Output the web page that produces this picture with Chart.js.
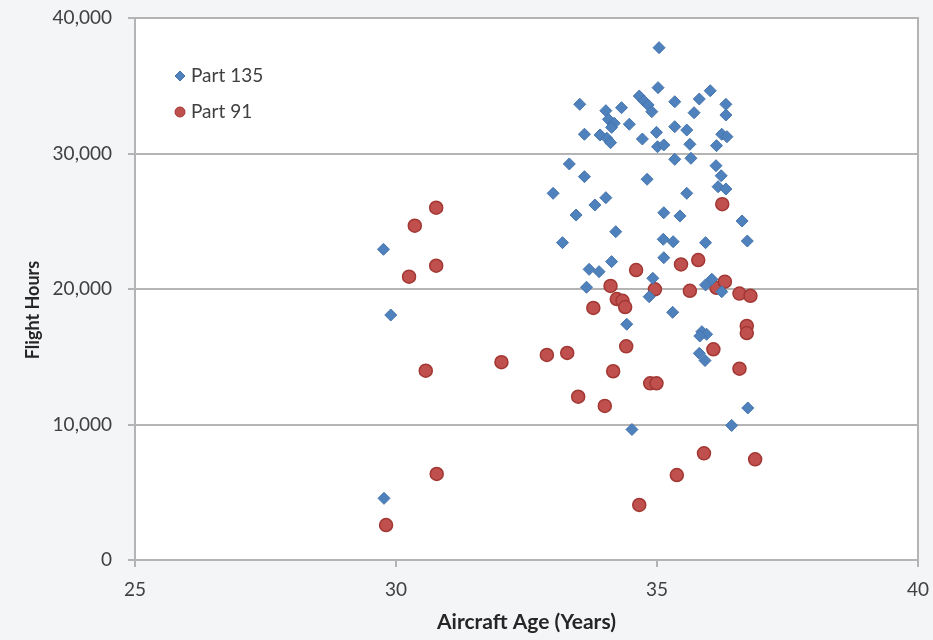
<!DOCTYPE html>
<html>
<head>
<meta charset="utf-8">
<script src="https://cdn.jsdelivr.net/npm/chart.js@4"></script>
<style>
  html, body { margin: 0; padding: 0; background: #f4f5f7; }
  canvas { display: block; }
</style>
</head>
<body>
<canvas id="chart" width="933" height="640"></canvas>
<script>
// Aircraft age (years) vs. accumulated flight hours
const seriesNames = ['Part 135', 'Part 91'];
const xAxisTitle = 'Aircraft Age (Years)';
const yAxisTitle = 'Flight Hours';

const part135Age = [
  29.76, 29.90, 29.77, 35.04, 33.52, 35.02, 34.66, 34.75, 34.83, 34.90,
  35.34, 35.81, 36.02, 36.32, 36.32, 35.71, 34.32, 34.02, 34.07, 34.18,
  34.13, 34.47, 33.61, 33.91, 34.04, 34.11, 34.72, 34.99, 35.34, 35.57,
  35.01, 35.13, 35.63, 36.14, 36.24, 36.34, 33.32, 33.61, 34.81, 35.34,
  35.65, 36.13, 36.23, 36.17, 36.32, 33.01, 34.02, 33.81, 35.57, 33.45,
  35.13, 35.44, 36.63, 34.21, 33.19, 35.12, 35.31, 35.93, 36.73, 34.13,
  35.13, 33.70, 33.89, 34.92, 33.65, 34.85, 35.93, 36.05, 36.24, 35.30,
  34.42, 35.86, 35.95, 35.82, 35.81, 35.92, 36.74, 36.43, 34.52
];
const part135Hours = [
  22930, 18080, 4550, 37810, 33630, 34860, 34240, 33870, 33580, 33090,
  33820, 34020, 34630, 33630, 32840, 33010, 33380, 33160, 32520, 32230,
  31930, 32160, 31420, 31370, 31120, 30800, 31070, 31560, 31980, 31730,
  30500, 30630, 30680, 30580, 31420, 31240, 29230, 28290, 28100, 29570,
  29650, 29100, 28360, 27550, 27380, 27060, 26740, 26200, 27060, 25460,
  25630, 25390, 25020, 24230, 23420, 23670, 23490, 23420, 23540, 22020,
  22310, 21450, 21280, 20790, 20130, 19430, 20300, 20720, 19800, 18280,
  17400, 16850, 16660, 16530, 15250, 14720, 11220, 9930, 9630
];

const part91Age = [
  30.36, 30.25, 30.77, 30.77, 30.57, 30.78, 29.81, 32.02, 32.89, 33.28,
  36.25, 35.79, 35.46, 34.60, 34.11, 34.96, 35.63, 36.14, 36.30, 36.58,
  36.79, 34.23, 34.34, 34.39, 33.78, 36.72, 36.72, 34.41, 36.08, 34.16,
  36.58, 34.87, 34.99, 33.49, 34.00, 35.90, 36.88, 35.38, 34.66
];
const part91Hours = [
  24670, 20910, 21720, 26000, 13970, 6350, 2580, 14600, 15130, 15280,
  26260, 22140, 21810, 21400, 20230, 19980, 19870, 20090, 20540, 19660,
  19500, 19260, 19130, 18670, 18600, 17270, 16750, 15770, 15550, 13930,
  14120, 13040, 13040, 12050, 11370, 7870, 7430, 6270, 4060
];

const xTickValues = [25, 30, 35, 40];
const yTickValues = [0, 10000, 20000, 30000, 40000];

const toPoints = (xs, ys) => xs.map((x, i) => ({ x: x, y: ys[i] }));

const FONT = 'Lato, "Open Sans", sans-serif';
const TICK_COLOR = '#404040';
const TITLE_COLOR = '#262626';
const GRID_COLOR = '#b4b4b4';
const BLUE = '#4f81bd';
const RED = '#c0504d';

// White plot area with a grey frame
const plotFrame = {
  id: 'plotFrame',
  beforeDraw(chart) {
    const { ctx, chartArea: a } = chart;
    ctx.save();
    ctx.fillStyle = '#ffffff';
    ctx.fillRect(a.left, a.top, a.right - a.left, a.bottom - a.top);
    ctx.restore();
  },
  afterDraw(chart) {
    const { ctx, chartArea: a } = chart;
    ctx.save();
    ctx.strokeStyle = GRID_COLOR;
    ctx.lineWidth = 2;
    ctx.beginPath();
    ctx.moveTo(a.left, a.top);
    ctx.lineTo(a.right, a.top);
    ctx.lineTo(a.right, a.bottom);
    ctx.stroke();
    ctx.restore();
  }
};

// Vertical axis title, set a little below the plot's middle
const yTitle = {
  id: 'yTitle',
  afterDraw(chart) {
    const { ctx, chartArea: a } = chart;
    ctx.save();
    ctx.translate(33, (a.top + a.bottom) / 2 + 21);
    ctx.rotate(-Math.PI / 2);
    ctx.fillStyle = TITLE_COLOR;
    ctx.font = 'bold 18px ' + FONT;
    ctx.textAlign = 'center';
    ctx.textBaseline = 'middle';
    ctx.fillText(yAxisTitle, 0, 0);
    ctx.restore();
  }
};

// Legend drawn inside the plot, top-left
const innerLegend = {
  id: 'innerLegend',
  afterDraw(chart) {
    const { ctx, chartArea: a } = chart;
    const mx = a.left + 45;
    const tx = a.left + 56;
    const rows = [a.top + 58, a.top + 94];
    ctx.save();
    chart.data.datasets.forEach((ds, i) => {
      const y = rows[i];
      ctx.fillStyle = ds.backgroundColor;
      ctx.strokeStyle = ds.borderColor;
      ctx.lineWidth = 1;
      ctx.beginPath();
      if (ds.pointStyle === 'rectRot') {
        const r = 5;
        ctx.moveTo(mx - r, y);
        ctx.lineTo(mx, y - r);
        ctx.lineTo(mx + r, y);
        ctx.lineTo(mx, y + r);
        ctx.closePath();
      } else {
        ctx.arc(mx, y, 5, 0, Math.PI * 2);
      }
      ctx.fill();
      ctx.stroke();
      ctx.fillStyle = TICK_COLOR;
      ctx.font = '19px ' + FONT;
      ctx.textBaseline = 'middle';
      ctx.textAlign = 'left';
      ctx.fillText(ds.label, tx, y);
    });
    ctx.restore();
  }
};

new Chart(document.getElementById('chart'), {
  type: 'scatter',
  data: {
    datasets: [
      {
        label: seriesNames[0],
        data: toPoints(part135Age, part135Hours),
        pointStyle: 'rectRot',
        pointRadius: 6,
        pointHoverRadius: 6,
        backgroundColor: BLUE,
        borderColor: '#4675ad',
        borderWidth: 1
      },
      {
        label: seriesNames[1],
        data: toPoints(part91Age, part91Hours),
        pointStyle: 'circle',
        pointRadius: 6.5,
        pointHoverRadius: 6.5,
        backgroundColor: RED,
        borderColor: '#a23733',
        borderWidth: 1.5
      }
    ]
  },
  options: {
    responsive: false,
    animation: false,
    events: [],
    layout: { padding: { top: 18, right: 15, left: 0, bottom: 0 } },
    plugins: {
      legend: { display: false },
      tooltip: { enabled: false },
      title: { display: false }
    },
    scales: {
      x: {
        type: 'linear',
        position: 'bottom',
        min: 25,
        max: 40,
        afterBuildTicks(scale) { scale.ticks = xTickValues.map(v => ({ value: v })); },
        afterFit(scale) { scale.height = 80; scale.paddingLeft = 0; scale.paddingRight = 0; },
        ticks: {
          color: TICK_COLOR,
          font: { family: FONT, size: 19 },
          padding: 11,
          maxRotation: 0
        },
        grid: {
          drawOnChartArea: false,
          drawTicks: true,
          tickLength: 7,
          color: GRID_COLOR,
          lineWidth: 2
        },
        border: { display: true, color: GRID_COLOR, width: 2 },
        title: {
          display: true,
          text: xAxisTitle,
          color: TITLE_COLOR,
          font: { family: FONT, size: 21, weight: 'bold' },
          padding: { top: 0, bottom: 5 }
        }
      },
      y: {
        type: 'linear',
        min: 0,
        max: 40000,
        afterBuildTicks(scale) { scale.ticks = yTickValues.map(v => ({ value: v })); },
        afterFit(scale) { scale.width = 135; scale.paddingTop = 0; scale.paddingBottom = 0; },
        ticks: {
          color: TICK_COLOR,
          font: { family: FONT, size: 19 },
          padding: 16,
          callback: v => v.toLocaleString('en-US')
        },
        grid: {
          drawTicks: true,
          tickLength: 7,
          color: GRID_COLOR,
          lineWidth: 2
        },
        border: { display: true, color: GRID_COLOR, width: 2 },
        title: { display: false }
      }
    }
  },
  plugins: [plotFrame, yTitle, innerLegend]
});
</script>
</body>
</html>
